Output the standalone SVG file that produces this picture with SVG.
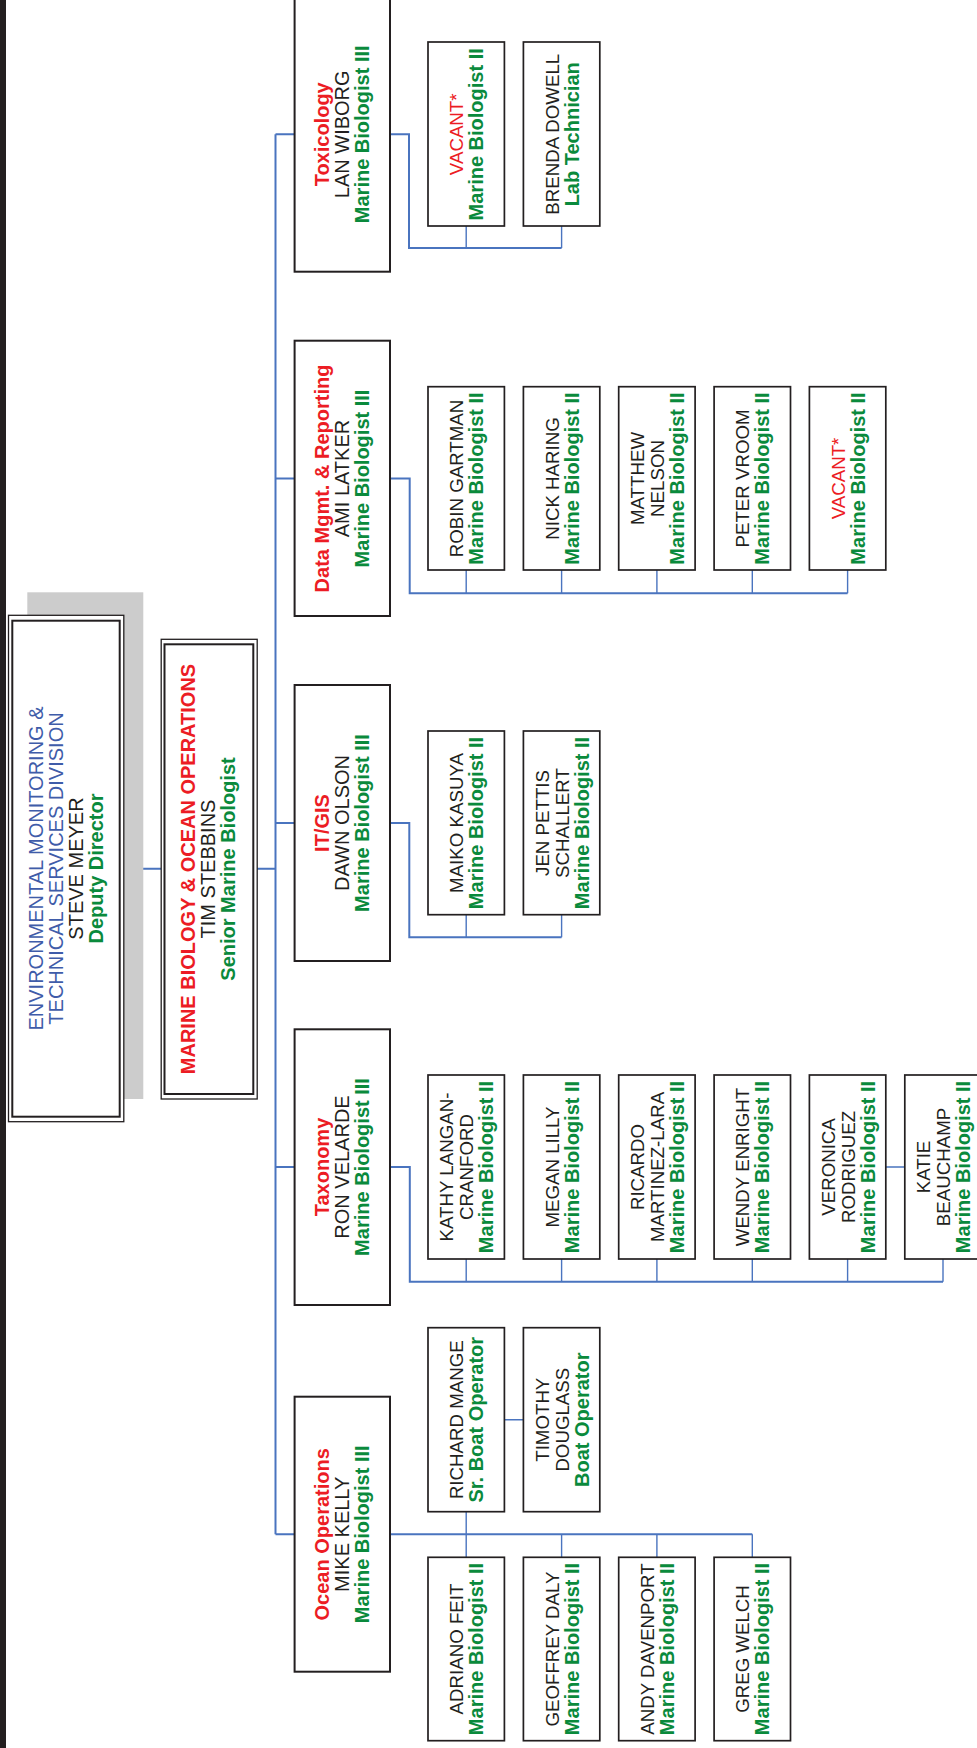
<svg xmlns="http://www.w3.org/2000/svg" width="977" height="1748" viewBox="0 0 977 1748">
<style>
text{font-family:"Liberation Sans",Arial,sans-serif;font-size:20px;text-anchor:middle;fill:#231f20}
text.s{font-size:18.7px}
.r{fill:#ec1c24;font-weight:bold}
.v{fill:#ec1c24}
.g{fill:#0a8a3c;font-weight:bold;font-size:20px}
.b{fill:#3f5ca9}
.mgr{fill:#fff;stroke:#231f20;stroke-width:2}
.st{fill:#fff;stroke:#231f20;stroke-width:1.7}
.o{fill:#fff;stroke:#231f20;stroke-width:1.3}
.i{fill:none;stroke:#231f20;stroke-width:2}
.c{fill:none;stroke:#4a74bf;stroke-width:1.4}
.cm{fill:none;stroke:#4a74bf;stroke-width:2}
</style>
<rect x="0" y="0" width="977" height="1748" fill="#fff"/>
<rect x="0" y="0" width="6" height="1748" fill="#231f20"/>
<g id="connectors">
<path class="cm" d="M124 868.7H161M257 868.7H275.5M275.5 134.3V1534.3M275.5 134.3H294.5M275.5 478.5H294.5M275.5 823H294.5M275.5 1167H294.5M275.5 1534.3H294.5"/>
<path class="cm" d="M390 134.3H409V248H561.6"/>
<path class="c" d="M466.2 226V248M561.6 226V248"/>
<path class="cm" d="M390 478.5H409.7V593.3H847.6"/>
<path class="c" d="M466.2 570V593.3M561.6 570V593.3M656.9 570V593.3M752.3 570V593.3M847.6 570V593.3"/>
<path class="cm" d="M390 823H409.3V937.3H561.6"/>
<path class="c" d="M466.2 914.7V937.3M561.6 914.7V937.3"/>
<path class="cm" d="M390 1167H409.8V1281.7H943"/>
<path class="c" d="M466.2 1259V1281.7M561.6 1259V1281.7M656.9 1259V1281.7M752.3 1259V1281.7M847.6 1259V1281.7M943 1259V1281.7M885.8 1167H904.8"/>
<path class="cm" d="M390 1534.3H752.3"/>
<path class="c" d="M466.2 1511.7V1557.3M561.6 1534.3V1557.3M656.9 1534.3V1557.3M752.3 1534.3V1557.3M504.6 1419.7H523.4"/>
</g>
<g id="director">
<rect x="27.3" y="592.3" width="116" height="506.7" fill="#cccccc"/>
<rect class="o" x="8.5" y="615.3" width="115.3" height="506.4"/>
<rect class="i" x="12.3" y="620.7" width="107.4" height="496"/>
<text transform="translate(43,868.5) rotate(-90)"><tspan x="0" class="b">ENVIRONMENTAL MONITORING &amp;</tspan><tspan x="0" dy="20" class="b">TECHNICAL SERVICES DIVISION</tspan><tspan x="0" dy="20">STEVE MEYER</tspan><tspan x="0" dy="20" class="g">Deputy Director</tspan></text>
</g>
<g id="mboo">
<rect class="o" x="161.2" y="639.3" width="96" height="459.7"/>
<rect class="i" x="164.5" y="644.3" width="88.8" height="449.7"/>
<text transform="translate(195,869) rotate(-90)"><tspan x="0" class="r">MARINE BIOLOGY &amp; OCEAN OPERATIONS</tspan><tspan x="0" dy="20">TIM STEBBINS</tspan><tspan x="0" dy="20" class="g">Senior Marine Biologist</tspan></text>
</g>
<g id="toxicology">
<rect class="mgr" x="294.6" y="-3" width="95.4" height="274.7"/>
<text transform="translate(329,134.3) rotate(-90)"><tspan x="0" class="r">Toxicology</tspan><tspan x="0" dy="20">LAN WIBORG</tspan><tspan x="0" dy="20" class="g">Marine Biologist III</tspan></text>
</g>
<g id="tox-vacant">
<rect class="st" x="428" y="42" width="76.4" height="184"/>
<text class="s" transform="translate(463.2,134.3) rotate(-90)"><tspan x="0" class="v">VACANT*</tspan><tspan x="0" dy="20" class="g">Marine Biologist II</tspan></text>
</g>
<g id="brenda-dowell">
<rect class="st" x="523.4" y="42" width="76.4" height="184"/>
<text class="s" transform="translate(558.6,134.3) rotate(-90)"><tspan x="0">BRENDA DOWELL</tspan><tspan x="0" dy="20" class="g">Lab Technician</tspan></text>
</g>
<g id="data-mgmt">
<rect class="mgr" x="294.6" y="340.7" width="95.4" height="275.3"/>
<text transform="translate(329,478.5) rotate(-90)"><tspan x="0" class="r">Data Mgmt. &amp; Reporting</tspan><tspan x="0" dy="20">AMI LATKER</tspan><tspan x="0" dy="20" class="g">Marine Biologist III</tspan></text>
</g>
<g id="robin-gartman">
<rect class="st" x="428" y="386.7" width="76.4" height="183.3"/>
<text class="s" transform="translate(463.2,478.5) rotate(-90)"><tspan x="0">ROBIN GARTMAN</tspan><tspan x="0" dy="20" class="g">Marine Biologist II</tspan></text>
</g>
<g id="nick-haring">
<rect class="st" x="523.4" y="386.7" width="76.4" height="183.3"/>
<text class="s" transform="translate(558.6,478.5) rotate(-90)"><tspan x="0">NICK HARING</tspan><tspan x="0" dy="20" class="g">Marine Biologist II</tspan></text>
</g>
<g id="matthew-nelson">
<rect class="st" x="618.7" y="386.7" width="76.4" height="183.3"/>
<text class="s" transform="translate(643.9,478.5) rotate(-90)"><tspan x="0">MATTHEW</tspan><tspan x="0" dy="20">NELSON</tspan><tspan x="0" dy="20" class="g">Marine Biologist II</tspan></text>
</g>
<g id="peter-vroom">
<rect class="st" x="714.1" y="386.7" width="76.4" height="183.3"/>
<text class="s" transform="translate(749.3,478.5) rotate(-90)"><tspan x="0">PETER VROOM</tspan><tspan x="0" dy="20" class="g">Marine Biologist II</tspan></text>
</g>
<g id="data-vacant">
<rect class="st" x="809.4" y="386.7" width="76.4" height="183.3"/>
<text class="s" transform="translate(844.6,478.5) rotate(-90)"><tspan x="0" class="v">VACANT*</tspan><tspan x="0" dy="20" class="g">Marine Biologist II</tspan></text>
</g>
<g id="itgis">
<rect class="mgr" x="294.6" y="685" width="95.4" height="276"/>
<text transform="translate(329,823) rotate(-90)"><tspan x="0" class="r">IT/GIS</tspan><tspan x="0" dy="20">DAWN OLSON</tspan><tspan x="0" dy="20" class="g">Marine Biologist III</tspan></text>
</g>
<g id="maiko-kasuya">
<rect class="st" x="428" y="731" width="76.4" height="183.7"/>
<text class="s" transform="translate(463.2,823) rotate(-90)"><tspan x="0">MAIKO KASUYA</tspan><tspan x="0" dy="20" class="g">Marine Biologist II</tspan></text>
</g>
<g id="jen-pettis-schallert">
<rect class="st" x="523.4" y="731" width="76.4" height="183.7"/>
<text class="s" transform="translate(548.6,823) rotate(-90)"><tspan x="0">JEN PETTIS</tspan><tspan x="0" dy="20">SCHALLERT</tspan><tspan x="0" dy="20" class="g">Marine Biologist II</tspan></text>
</g>
<g id="taxonomy">
<rect class="mgr" x="294.6" y="1029.3" width="95.4" height="275.7"/>
<text transform="translate(329,1167) rotate(-90)"><tspan x="0" class="r">Taxonomy</tspan><tspan x="0" dy="20">RON VELARDE</tspan><tspan x="0" dy="20" class="g">Marine Biologist III</tspan></text>
</g>
<g id="kathy-langan-cranford">
<rect class="st" x="428" y="1075" width="76.4" height="184"/>
<text class="s" transform="translate(453.2,1167) rotate(-90)"><tspan x="0">KATHY LANGAN-</tspan><tspan x="0" dy="20">CRANFORD</tspan><tspan x="0" dy="20" class="g">Marine Biologist II</tspan></text>
</g>
<g id="megan-lilly">
<rect class="st" x="523.4" y="1075" width="76.4" height="184"/>
<text class="s" transform="translate(558.6,1167) rotate(-90)"><tspan x="0">MEGAN LILLY</tspan><tspan x="0" dy="20" class="g">Marine Biologist II</tspan></text>
</g>
<g id="ricardo-martinez-lara">
<rect class="st" x="618.7" y="1075" width="76.4" height="184"/>
<text class="s" transform="translate(643.9,1167) rotate(-90)"><tspan x="0">RICARDO</tspan><tspan x="0" dy="20">MARTINEZ-LARA</tspan><tspan x="0" dy="20" class="g">Marine Biologist II</tspan></text>
</g>
<g id="wendy-enright">
<rect class="st" x="714.1" y="1075" width="76.4" height="184"/>
<text class="s" transform="translate(749.3,1167) rotate(-90)"><tspan x="0">WENDY ENRIGHT</tspan><tspan x="0" dy="20" class="g">Marine Biologist II</tspan></text>
</g>
<g id="veronica-rodriguez">
<rect class="st" x="809.4" y="1075" width="76.4" height="184"/>
<text class="s" transform="translate(834.6,1167) rotate(-90)"><tspan x="0">VERONICA</tspan><tspan x="0" dy="20">RODRIGUEZ</tspan><tspan x="0" dy="20" class="g">Marine Biologist II</tspan></text>
</g>
<g id="katie-beauchamp">
<rect class="st" x="904.8" y="1075" width="76.4" height="184"/>
<text class="s" transform="translate(930,1167) rotate(-90)"><tspan x="0">KATIE</tspan><tspan x="0" dy="20">BEAUCHAMP</tspan><tspan x="0" dy="20" class="g">Marine Biologist II</tspan></text>
</g>
<g id="ocean-operations">
<rect class="mgr" x="294.6" y="1396.7" width="95.4" height="275"/>
<text transform="translate(329,1534.3) rotate(-90)"><tspan x="0" class="r">Ocean Operations</tspan><tspan x="0" dy="20">MIKE KELLY</tspan><tspan x="0" dy="20" class="g">Marine Biologist III</tspan></text>
</g>
<g id="richard-mange">
<rect class="st" x="428" y="1327.7" width="76.4" height="184"/>
<text class="s" transform="translate(463.2,1419.7) rotate(-90)"><tspan x="0">RICHARD MANGE</tspan><tspan x="0" dy="20" class="g">Sr. Boat Operator</tspan></text>
</g>
<g id="timothy-douglass">
<rect class="st" x="523.4" y="1327.7" width="76.4" height="184"/>
<text class="s" transform="translate(548.6,1419.7) rotate(-90)"><tspan x="0">TIMOTHY</tspan><tspan x="0" dy="20">DOUGLASS</tspan><tspan x="0" dy="20" class="g">Boat Operator</tspan></text>
</g>
<g id="adriano-feit">
<rect class="st" x="428" y="1557.3" width="76.4" height="183.4"/>
<text class="s" transform="translate(463.2,1649) rotate(-90)"><tspan x="0">ADRIANO FEIT</tspan><tspan x="0" dy="20" class="g">Marine Biologist II</tspan></text>
</g>
<g id="geoffrey-daly">
<rect class="st" x="523.4" y="1557.3" width="76.4" height="183.4"/>
<text class="s" transform="translate(558.6,1649) rotate(-90)"><tspan x="0">GEOFFREY DALY</tspan><tspan x="0" dy="20" class="g">Marine Biologist II</tspan></text>
</g>
<g id="andy-davenport">
<rect class="st" x="618.7" y="1557.3" width="76.4" height="183.4"/>
<text class="s" transform="translate(653.9,1649) rotate(-90)"><tspan x="0">ANDY DAVENPORT</tspan><tspan x="0" dy="20" class="g">Marine Biologist II</tspan></text>
</g>
<g id="greg-welch">
<rect class="st" x="714.1" y="1557.3" width="76.4" height="183.4"/>
<text class="s" transform="translate(749.3,1649) rotate(-90)"><tspan x="0">GREG WELCH</tspan><tspan x="0" dy="20" class="g">Marine Biologist II</tspan></text>
</g>
</svg>
